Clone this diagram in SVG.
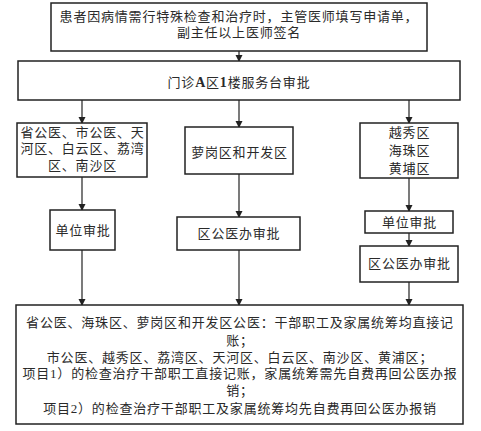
<svg xmlns="http://www.w3.org/2000/svg" width="481" height="431" viewBox="0 0 481 431">
<style>
.box{fill:#fff;stroke:#222;stroke-width:1.5}
.t{font-family:"Liberation Serif","Noto Sans CJK SC","Noto Sans CJK JP",serif;font-size:13px;letter-spacing:0.8px;fill:#2a2a2a;text-anchor:middle}
.b{font-family:"Liberation Serif",serif;font-weight:bold;font-size:14px}
.c{stroke:#333;stroke-width:1.3;fill:none;marker-end:url(#ah)}
</style>
<defs>
<marker id="ah" markerWidth="7" markerHeight="8" refX="6" refY="3.5" orient="auto" markerUnits="userSpaceOnUse">
<path d="M0,0 L7,3.5 L0,7 Z" fill="#222"/>
</marker>
</defs>
<rect width="481" height="431" fill="#fff"/>
<g id="connectors">
<line class="c" x1="239" y1="51" x2="239" y2="61"/>
<line class="c" x1="82" y1="100" x2="82" y2="123"/>
<line class="c" x1="239" y1="100" x2="239" y2="127"/>
<line class="c" x1="409" y1="100" x2="409" y2="123"/>
<line class="c" x1="82" y1="177" x2="82" y2="210"/>
<line class="c" x1="239" y1="174" x2="239" y2="217"/>
<line class="c" x1="409" y1="178" x2="409" y2="211"/>
<line class="c" x1="409" y1="233" x2="409" y2="246"/>
<line class="c" x1="82" y1="250" x2="82" y2="305"/>
<line class="c" x1="239" y1="250" x2="239" y2="305"/>
<line class="c" x1="409" y1="282" x2="409" y2="305"/>
</g>
<g id="n1">
<rect class="box" x="51" y="3" width="376" height="48"/>
<text class="t" x="239" y="20.5">患者因病情需行特殊检查和治疗时，主管医师填写申请单，</text>
<text class="t" x="239" y="37">副主任以上医师签名</text>
</g>
<g id="n2">
<rect class="box" x="18" y="61" width="442" height="39"/>
<text class="t" x="239" y="86.5">门诊<tspan class="b">A</tspan>区<tspan class="b">1</tspan>楼服务台审批</text>
</g>
<g id="n3">
<rect class="box" x="17" y="123" width="130" height="54"/>
<text class="t" x="82.5" y="136.5">省公医、市公医、天</text>
<text class="t" x="82.5" y="153">河区、白云区、荔湾</text>
<text class="t" x="82.5" y="169.5">区、南沙区</text>
</g>
<g id="n4">
<rect class="box" x="185" y="127" width="108" height="47"/>
<text class="t" x="239.5" y="156.5">萝岗区和开发区</text>
</g>
<g id="n5">
<rect class="box" x="360" y="123" width="98" height="55"/>
<text class="t" x="409.5" y="136.5">越秀区</text>
<text class="t" x="409.5" y="154.5">海珠区</text>
<text class="t" x="409.5" y="172.5">黄埔区</text>
</g>
<g id="n6">
<rect class="box" x="50" y="210" width="65" height="40"/>
<text class="t" x="83" y="234.5">单位审批</text>
</g>
<g id="n7">
<rect class="box" x="177" y="217" width="123" height="33"/>
<text class="t" x="239" y="237.5">区公医办审批</text>
</g>
<g id="n8">
<rect class="box" x="365" y="211" width="88" height="22"/>
<text class="t" x="409.5" y="226.5">单位审批</text>
</g>
<g id="n9">
<rect class="box" x="360" y="246" width="98" height="36"/>
<text class="t" x="409.5" y="267.5">区公医办审批</text>
</g>
<g id="n10">
<rect class="box" x="16" y="305" width="447" height="119"/>
<text class="t" x="240" y="326.5">省公医、海珠区、萝岗区和开发区公医：干部职工及家属统筹均直接记</text>
<text class="t" x="240" y="344.5">账；</text>
<text class="t" x="240" y="361.5">市公医、越秀区、荔湾区、天河区、白云区、南沙区、黄浦区；</text>
<text class="t" x="240" y="377.5">项目<tspan font-family="Liberation Serif">1</tspan>）的检查治疗干部职工直接记账，家属统筹需先自费再回公医办报</text>
<text class="t" x="240" y="394.5">销；</text>
<text class="t" x="240" y="412.5">项目<tspan font-family="Liberation Serif">2</tspan>）的检查治疗干部职工及家属统筹均先自费再回公医办报销</text>
</g>
</svg>
